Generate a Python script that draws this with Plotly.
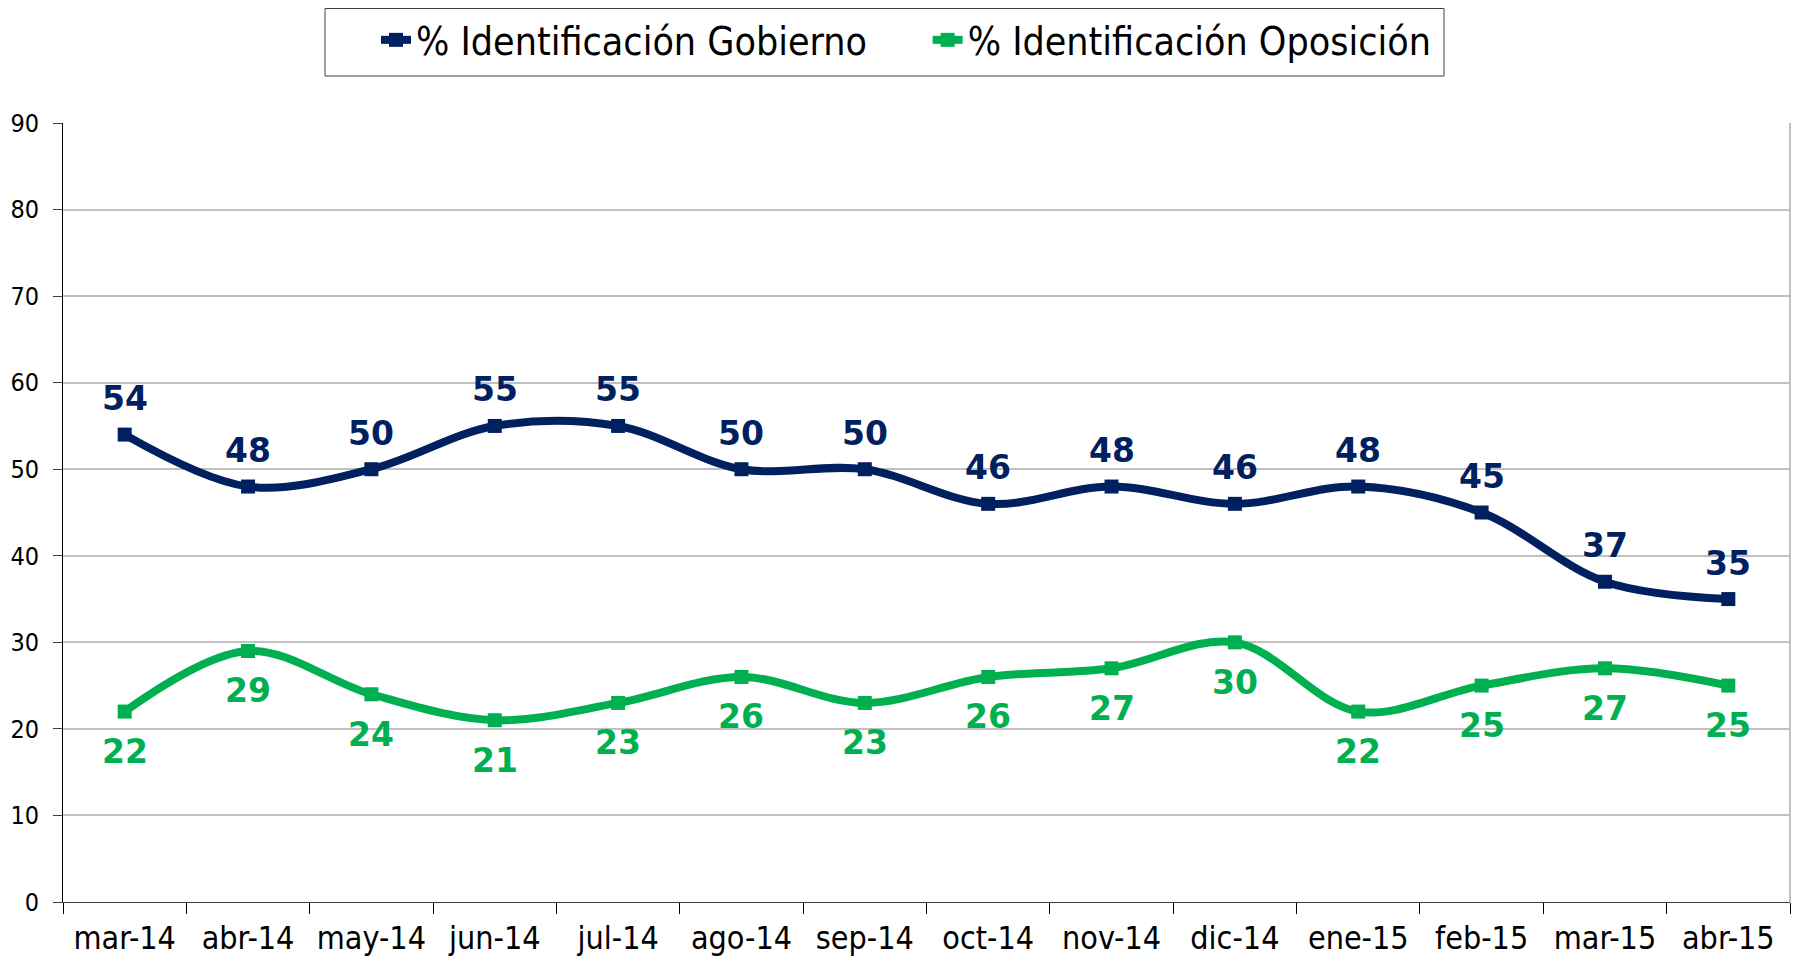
import plotly.graph_objects as go

months = ["mar-14", "abr-14", "may-14", "jun-14", "jul-14", "ago-14", "sep-14",
          "oct-14", "nov-14", "dic-14", "ene-15", "feb-15", "mar-15", "abr-15"]
gobierno = [54, 48, 50, 55, 55, 50, 50, 46, 48, 46, 48, 45, 37, 35]
oposicion = [22, 29, 24, 21, 23, 26, 23, 26, 27, 30, 22, 25, 27, 25]
series_names = ["% Identificación Gobierno", "% Identificación Oposición"]

NAVY = "#002060"
GREEN = "#00B050"
FONT = "DejaVu Sans Condensed, DejaVu Sans, Liberation Sans, sans-serif"
BFONT = "DejaVu Sans, Liberation Sans, sans-serif"

# page body has an 8px margin: figure is offset by (8, 8) in the page
OFF = 8
W, H = 1801 - OFF, 963 - OFF
L, R, T, B = 63 - OFF, 11, 123 - OFF, 61
PW, PH = W - L - R, H - T - B

fig = go.Figure()
fig.add_trace(go.Scatter(
    x=months, y=gobierno, name=series_names[0] + "\u00a0" * 5,
    mode="lines+markers", line=dict(color=NAVY, width=8, shape="spline", smoothing=1.0),
    marker=dict(symbol="square", size=14, color=NAVY),
))
fig.add_trace(go.Scatter(
    x=months, y=oposicion, name=series_names[1],
    mode="lines+markers", line=dict(color=GREEN, width=8, shape="spline", smoothing=1.0),
    marker=dict(symbol="square", size=14, color=GREEN),
))

for m, v in zip(months, gobierno):
    fig.add_annotation(x=m, y=v, text=f"<b>{v}</b>", showarrow=False, yshift=36,
                       font=dict(family=BFONT, size=33, color=NAVY))
for m, v in zip(months, oposicion):
    fig.add_annotation(x=m, y=v, text=f"<b>{v}</b>", showarrow=False, yshift=-40,
                       font=dict(family=BFONT, size=33, color=GREEN))

fig.update_layout(
    width=W, height=H,
    margin=dict(l=L, r=R, t=T, b=B, autoexpand=False),
    paper_bgcolor="white", plot_bgcolor="white",
    font=dict(family=FONT, color="black"),
    showlegend=True,
    legend=dict(
        orientation="h", xref="container", yref="container",
        x=(376 - OFF) / W, xanchor="left", y=1, yanchor="top",
        font=dict(family=FONT, size=39, color="black"),
        borderwidth=0, bgcolor="rgba(0,0,0,0)", tracegroupgap=0,
    ),
    xaxis=dict(
        type="category", range=[-0.5, 13.5], tickson="boundaries",
        ticks="outside", ticklen=11, tickcolor="#000000", tickwidth=1,
        showline=True, linecolor="#404040", linewidth=1,
        showgrid=False, tickfont=dict(family=FONT, size=32, color="black"),
        ticklabelstandoff=8, automargin=False,
    ),
    yaxis=dict(
        range=[0, 90], dtick=10, tick0=0,
        ticks="outside", ticklen=9, tickcolor="#404040", tickwidth=1,
        showline=True, linecolor="#000000", linewidth=1,
        showgrid=True, gridcolor="#C0C0C0", gridwidth=2,
        zeroline=False, tickfont=dict(family=FONT, size=25, color="black"),
        ticklabelstandoff=9, automargin=False,
    ),
)

# right plot-area border
fig.add_shape(type="line", xref="paper", yref="paper", x0=1, x1=1, y0=0, y1=1,
              line=dict(color="#C0C0C0", width=2))
# legend frame
fig.add_shape(type="rect", xref="paper", yref="paper",
              x0=(325 - 63) / PW, x1=(1444 - 63) / PW,
              y0=(902 - 76) / PH, y1=(902 - 8.5) / PH,
              line=dict(color="#404040", width=1), fillcolor="rgba(0,0,0,0)", layer="below")

fig.write_html("out.html")
